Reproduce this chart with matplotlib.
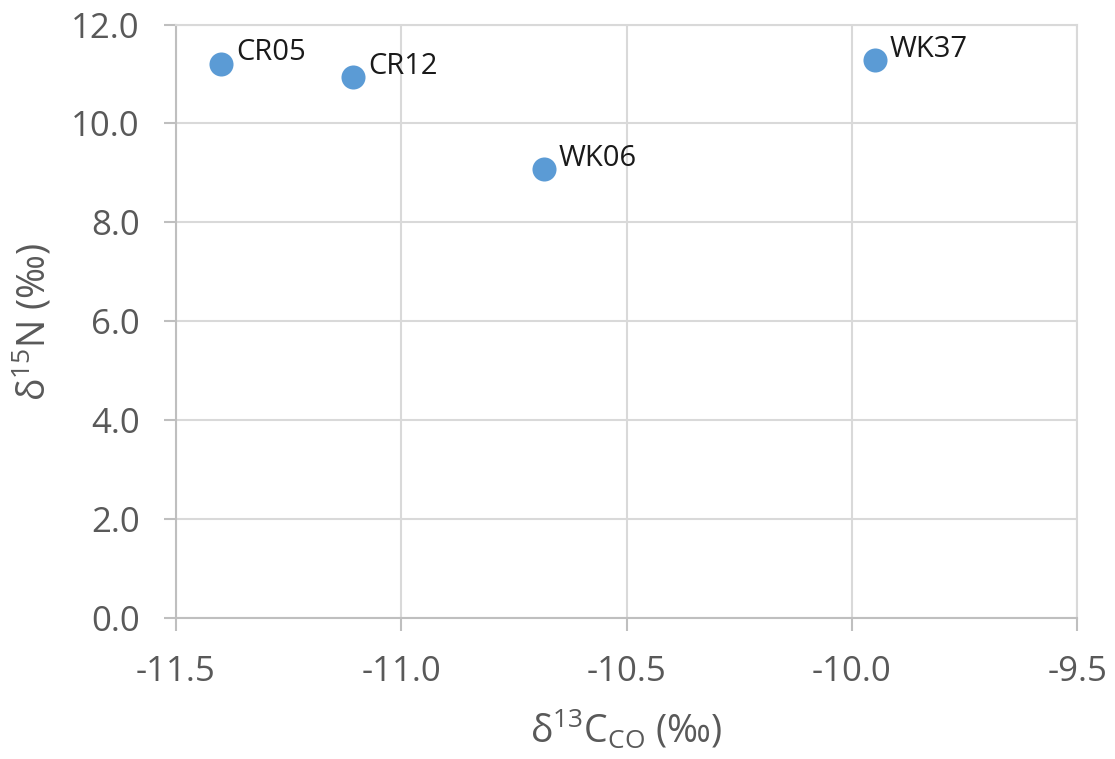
import matplotlib
matplotlib.use("Agg")
import matplotlib.pyplot as plt

labels = ["CR05", "CR12", "WK06", "WK37"]
d13C = [-11.40, -11.107, -10.684, -9.949]
d15N = [11.21, 10.93, 9.07, 11.28]
xticks = [-11.5, -11.0, -10.5, -10.0, -9.5]
yticks = [0, 2, 4, 6, 8, 10, 12]

plt.rcParams['font.family'] = ['Open Sans', 'DejaVu Sans']
plt.rcParams['mathtext.fontset'] = 'custom'
plt.rcParams['mathtext.rm'] = 'Open Sans'

fig = plt.figure(figsize=(11.15, 7.59), dpi=100)
ax = fig.add_axes([0.1578, 0.1858, 0.966 - 0.1578, 0.9677 - 0.1858])

ax.scatter(d13C, d15N, s=300, color='#5b9bd5', zorder=3, linewidths=0)
for lab, x, y in zip(labels, d13C, d15N):
    ax.annotate(lab, (x, y), xytext=(11, 8), textcoords='offset points',
                fontsize=21, color='#1a1a1a', va='center', ha='left')

ax.set_xlim(-11.5, -9.5)
ax.set_ylim(0, 12)
ax.set_xticks(xticks)
ax.set_xticklabels([f"{v:.1f}" for v in xticks])
ax.set_yticks(yticks)
ax.set_yticklabels([f"{v:.1f}" for v in yticks])
ax.grid(True, color='#d9d9d9', linewidth=1.5)
ax.set_axisbelow(True)
for s in ['top', 'right']:
    ax.spines[s].set_color('#d9d9d9')
    ax.spines[s].set_linewidth(1.5)
for s in ['left', 'bottom']:
    ax.spines[s].set_color('#bfbfbf')
    ax.spines[s].set_linewidth(1.5)
ax.tick_params(axis='both', colors='#bfbfbf', labelcolor='#595959', labelsize=25,
               length=9, width=1.5, direction='out')
ax.tick_params(axis='x', pad=18)
ax.tick_params(axis='y', pad=17)

ax.set_xlabel(r"δ$^{13}$C$_{\mathrm{CO}}$ (‰)", fontsize=27, color='#595959', labelpad=13)
ax.set_ylabel(r"δ$^{15}$N (‰)", fontsize=27, color='#595959', labelpad=12)

fig.savefig("out.png", dpi=100, facecolor='white')
